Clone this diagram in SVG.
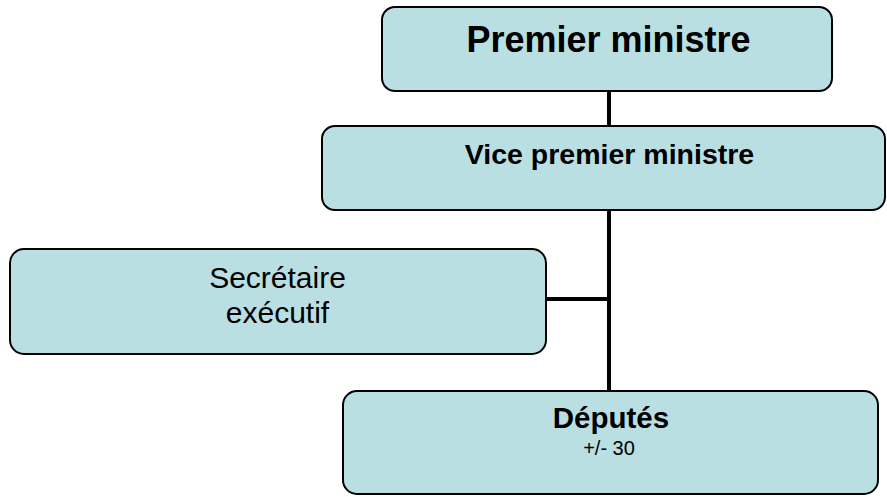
<svg xmlns="http://www.w3.org/2000/svg" width="887" height="497" viewBox="0 0 887 497">
<style>
.box{fill:#B9DFE3;stroke:#000;stroke-width:2}
.t{font-family:"Liberation Sans",Arial,sans-serif;fill:#000;text-anchor:middle}
.b{font-weight:bold}
.c{stroke:#000;stroke-width:4;fill:none}
</style>
<rect width="887" height="497" fill="#fff"/>
<g id="connectors">
<line class="c" x1="609" y1="91" x2="609" y2="126"/>
<line class="c" x1="609" y1="210" x2="609" y2="391"/>
<line class="c" x1="546" y1="299" x2="611" y2="299"/>
</g>
<g id="premier">
<rect class="box" x="382" y="7" width="450" height="84" rx="13"/>
<text class="t b" x="608.5" y="52" font-size="36">Premier ministre</text>
</g>
<g id="vice">
<rect class="box" x="322" y="126" width="563" height="84" rx="13"/>
<text class="t b" x="609.5" y="164" font-size="28.5">Vice premier ministre</text>
</g>
<g id="secretaire">
<rect class="box" x="10" y="249" width="536" height="105" rx="14"/>
<text class="t" x="277.5" y="288" font-size="30">Secrétaire</text>
<text class="t" x="277.5" y="323" font-size="30">exécutif</text>
</g>
<g id="deputes">
<rect class="box" x="343" y="391" width="535" height="103" rx="14"/>
<text class="t b" x="611" y="428" font-size="29.5">Députés</text>
<text class="t" x="609" y="455" font-size="20">+/- 30</text>
</g>
</svg>
